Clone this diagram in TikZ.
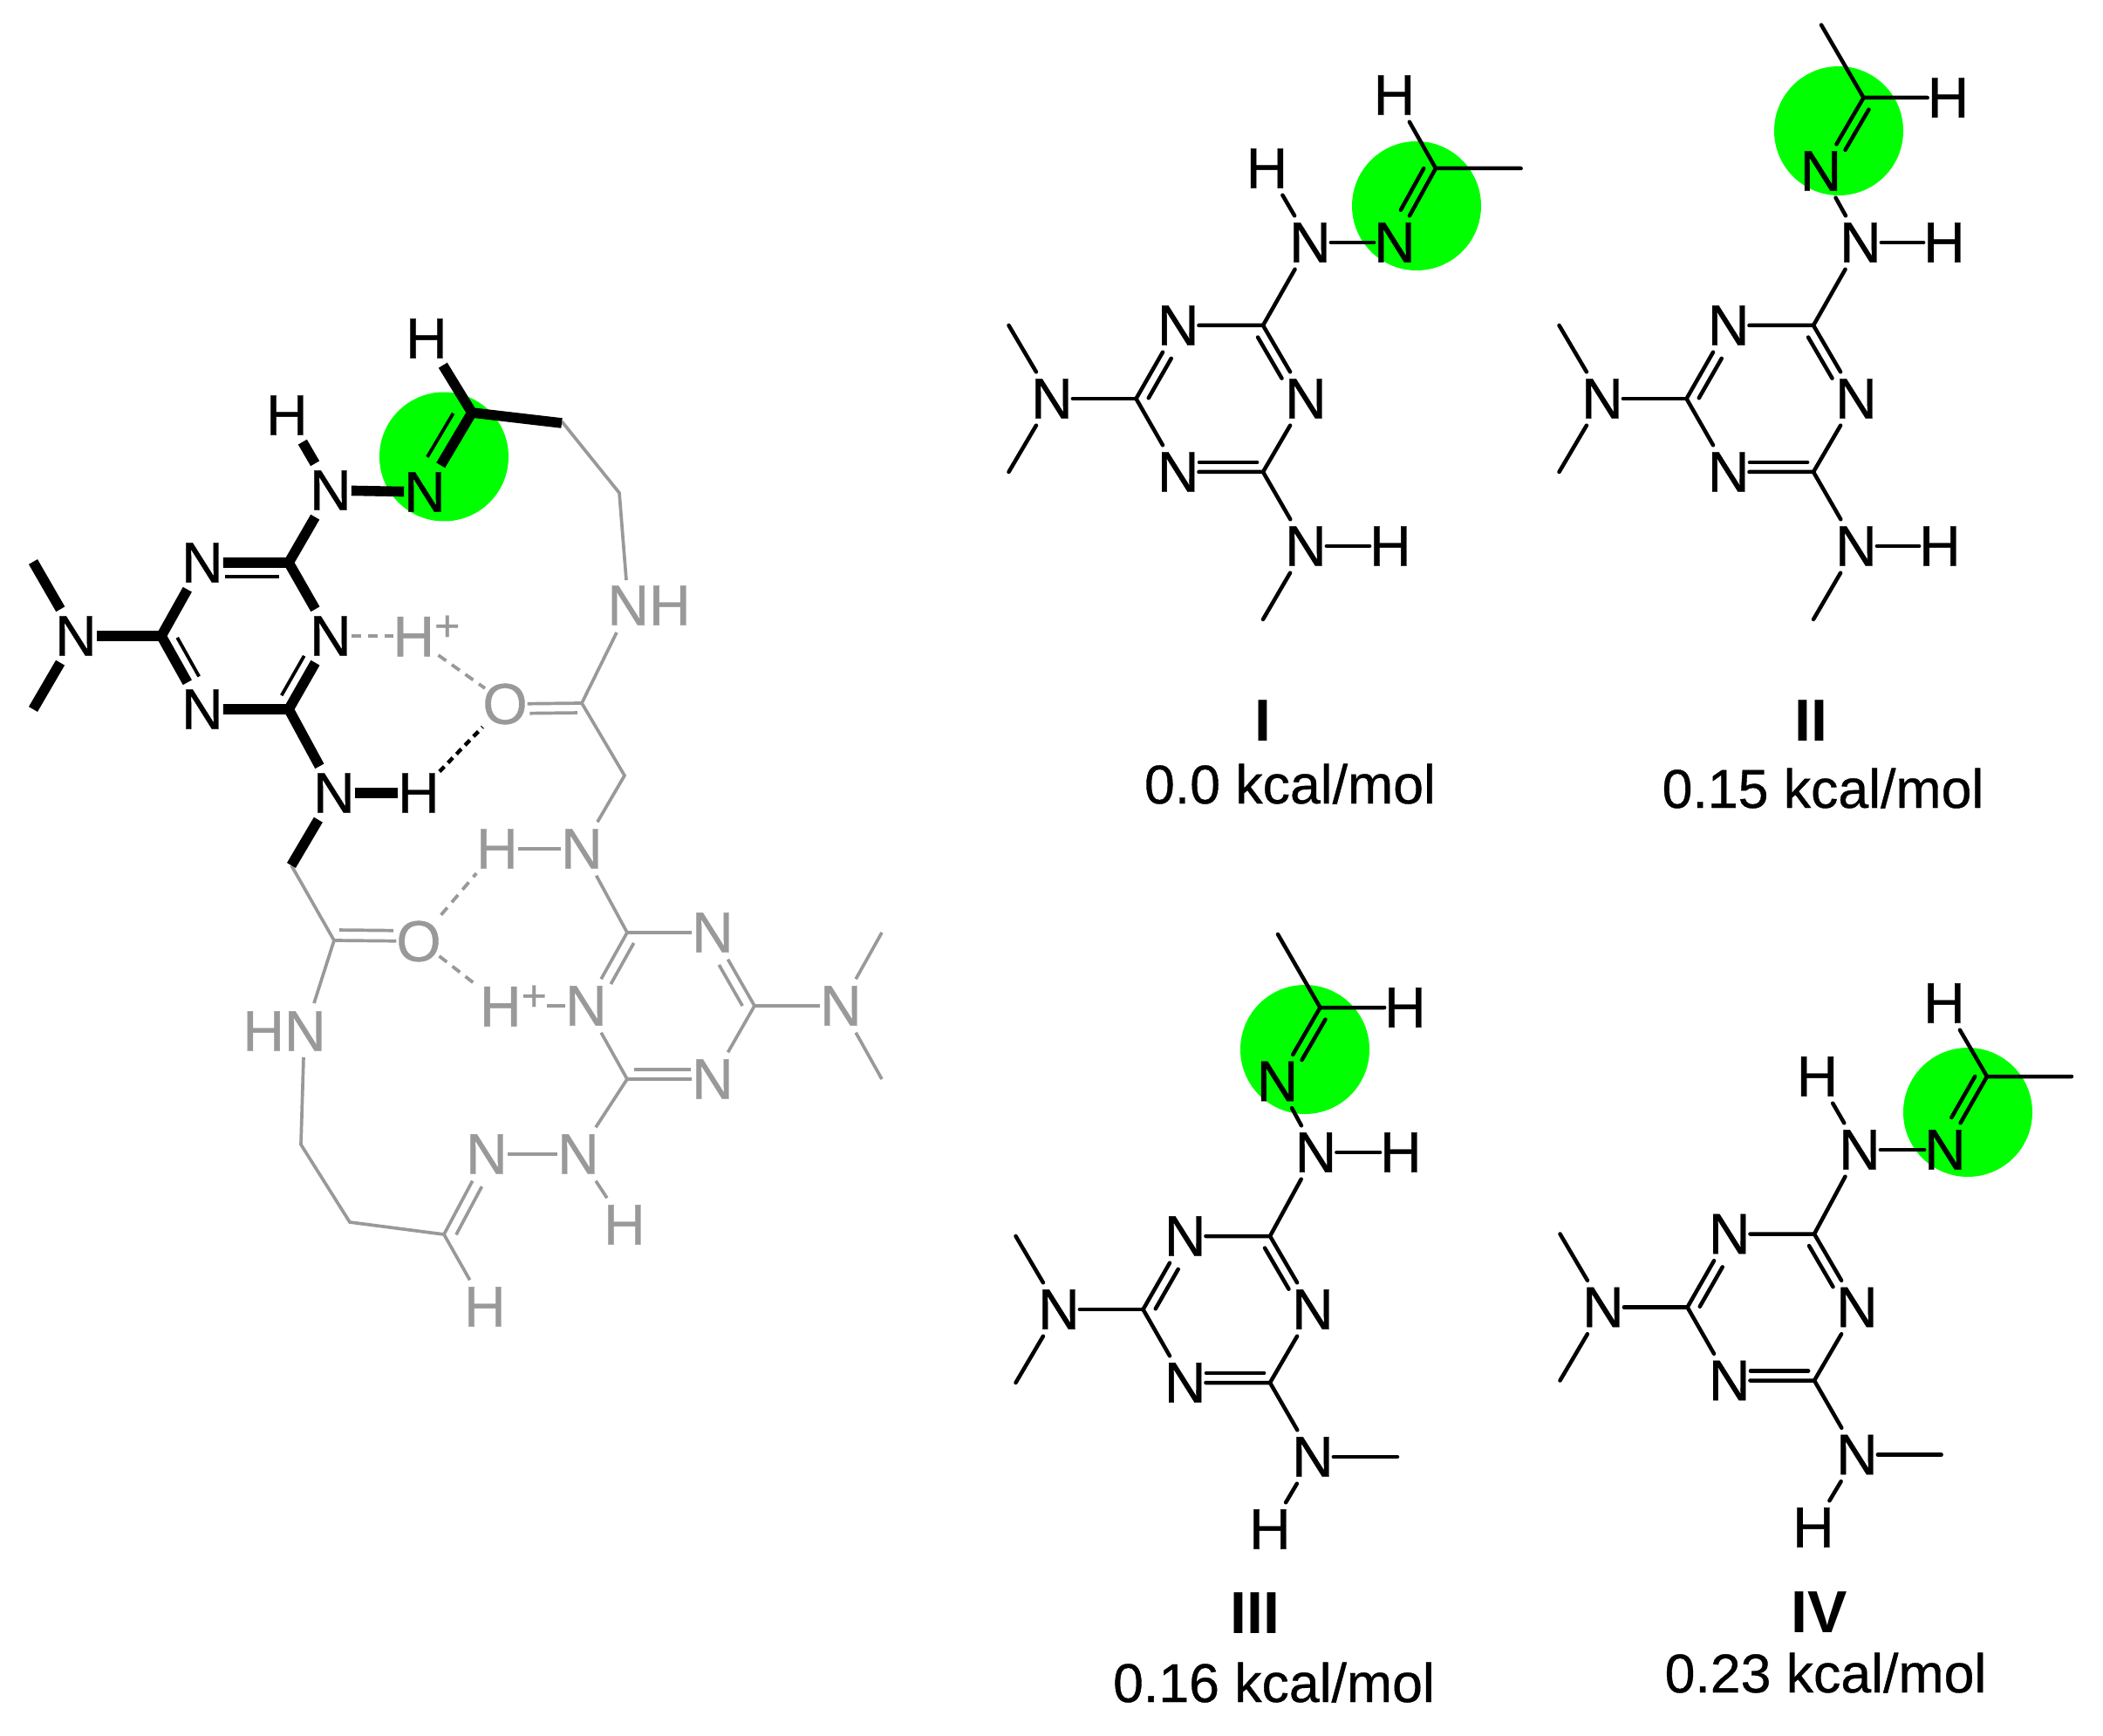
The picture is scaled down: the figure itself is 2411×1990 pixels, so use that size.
\documentclass[tikz,border=0pt]{standalone}
\usepackage{fontspec}
\setmainfont[UprightFeatures={FakeBold=0.6}]{Liberation Sans}
\usetikzlibrary{calc}
\definecolor{gryc}{HTML}{999999}
\definecolor{hilite}{HTML}{00FF00}
\newcommand{\dblbond}[7][]{%
  \draw[#1] ($(#2.center)!#4!(#3.center)!#7!#6:(#3.center)$) -- ($(#2.center)!#5!(#3.center)!#7!#6:(#3.center)$);}
\newcommand{\plusup}{\raisebox{9pt}{\fontsize{25pt}{25pt}\selectfont +}}
\tikzset{
  atom/.style={inner xsep=0pt,inner ysep=4pt,outer sep=0pt,font=\fontsize{33pt}{33pt}\selectfont},
  gatom/.style={atom,text=gryc},
  thinbond/.style={line width=2.25pt,line cap=round,line join=miter},
  boldbond/.style={line width=5.8pt,line cap=butt,line join=miter},
  boldinner/.style={line width=1.9pt},
  gbond/.style={line width=1.85pt,draw=gryc,line cap=butt,line join=miter},
  ghb/.style={line width=1.9pt,draw=gryc,dash pattern=on 5.5pt off 4pt},
  khb/.style={line width=2.2pt,draw=black,dash pattern=on 4pt off 3pt},
  spot/.style={fill=hilite},
  lab/.style={anchor=base,font=\fontsize{31.3pt}{31.3pt}\selectfont},
  blab/.style={anchor=base,font=\fontsize{34pt}{34pt}\selectfont\bfseries}
}
\newcommand{\triazine}{%
  \coordinate (ct) at (1448,373);
  \coordinate (cb) at (1448,541);
  \coordinate (cl) at (1302.5,457);
  \coordinate (m1) at (1156.5,373);
  \coordinate (m2) at (1156.5,541);
  \node[atom] (nr) at (1497,457) {N};
  \node[atom] (nb) at (1350.6,541) {N};
  \node[atom] (nt) at (1350.6,373) {N};
  \node[atom] (nm) at (1206,457) {N};
  \node[atom] (nl) at (1497,626) {N};
  \draw[thinbond] (nt) -- (ct) -- (nr);
  \draw[thinbond] (nr) -- (cb) -- (nb);
  \draw[thinbond] (nb) -- (cl) -- (nt);
  \draw[thinbond] (cl) -- (nm);
  \draw[thinbond] (m1) -- (nm);
  \draw[thinbond] (m2) -- (nm);
  \draw[thinbond] (cb) -- (nl);
  \dblbond[thinbond]{ct}{nr}{0.09}{0.65}{-90}{6pt}
  \dblbond[thinbond]{cl}{nt}{0.08}{0.62}{-90}{6pt}
  \dblbond[thinbond]{cb}{nb}{0.07}{0.75}{-90}{5.5pt}
}
\begin{document}
\begin{tikzpicture}[x=0.5pt,y=-0.5pt]
\path[use as bounding box,fill=white] (0,0) rectangle (2411,1990);

% ---------- left dimer ----------
\begin{scope}[name prefix=L-]
\fill[spot] (509,523.5) circle (37pt);
% gray part
\coordinate (g0) at (644,483);
\coordinate (g1) at (710,565);
\coordinate (nhtop) at (718,665);
\coordinate (nhbot) at (707,725);
\coordinate (gc) at (667,806);
\coordinate (gd) at (716,889);
\node[gatom] (nh) at (744,694) {NH};
\node[gatom] (o1) at (579,807) {O};
\node[gatom] (hn2) at (570,973) {H};
\node[gatom] (n2) at (667,973) {N};
\coordinate (rct) at (719,1069);
\coordinate (rcr) at (865,1153);
\coordinate (rcb) at (719,1237);
\node[gatom] (rtr) at (817,1069) {N};
\node[gatom] (rbr) at (817,1237) {N};
\node[gatom] (rl) at (672,1153) {N};
\node[gatom] (rm) at (964,1153) {N};
\coordinate (rm1) at (1011,1069);
\coordinate (rm2) at (1011,1237);
\node[gatom,anchor=west] (hp2) at (550,1153) {H\plusup};
\node[gatom] (o2) at (480,1079) {O};
\coordinate (cc) at (334,992);
\coordinate (c2) at (383,1078);
\node[gatom] (hn) at (326,1182) {HN};
\coordinate (hntop) at (360,1150);
\coordinate (hnbot) at (348,1212);
\coordinate (e1) at (345,1312);
\coordinate (e2) at (401,1401);
\coordinate (e3) at (509,1415);
\node[gatom] (hb) at (556,1498) {H};
\node[gatom] (nd) at (558,1323) {N};
\node[gatom] (ne) at (663,1323) {N};
\node[gatom] (he) at (716,1404) {H};
\node[gatom,anchor=west] (hp1) at (450.5,729) {H\plusup};
\draw[gbond] (g0) -- (g1) -- (nhtop);
\draw[gbond] (nhbot) -- (gc) -- (gd) -- (n2);
\draw[gbond] (gc) -- (o1);
\dblbond[gbond]{gc}{o1}{0.06}{0.68}{90}{5.5pt}
\draw[gbond] (hn2) -- (n2);
\draw[gbond] (n2) -- (rct) -- (rtr);
\draw[gbond] (rct) -- (rl);
\dblbond[gbond]{rct}{rl}{0.07}{0.63}{90}{6.25pt}
\draw[gbond] (rtr) -- (rcr) -- (rbr);
\dblbond[gbond]{rcr}{rtr}{0.07}{0.63}{90}{6pt}
\draw[gbond] (rcr) -- (rm);
\draw[gbond] (rm1) -- (rm);
\draw[gbond] (rm2) -- (rm);
\draw[gbond] (rl) -- (rcb) -- (rbr);
\dblbond[gbond]{rcb}{rbr}{0.08}{0.74}{90}{5.5pt}
\draw[gbond] (rcb) -- (ne);
\draw[gbond] (ne) -- (nd);
\draw[gbond] (ne) -- (he);
\draw[gbond] (hp2) -- (rl);
\draw[gbond] (cc) -- (c2) -- (hntop);
\draw[gbond] (c2) -- (o2);
\dblbond[gbond]{c2}{o2}{0.06}{0.70}{90}{6pt}
\draw[gbond] (hnbot) -- (e1) -- (e2) -- (e3) -- (hb);
\draw[gbond] (e3) -- (nd);
\dblbond[gbond]{e3}{nd}{0.06}{0.66}{-90}{6.25pt}
% hydrogen bonds
\coordinate (hba) at (502.5,751);
\coordinate (hbb) at (556,789);
\coordinate (hbc) at (503.6,1096);
\coordinate (hbd) at (548.5,1131);
\draw[ghb] (hba) -- (hbb);
\draw[ghb] (hbc) -- (hbd);
\draw[ghb] (o2) -- (hn2);
% black part
\coordinate (ch) at (541,473);
\coordinate (ch2) at (644,485);
\coordinate (kct) at (331,645);
\coordinate (kcl) at (185,729);
\coordinate (kcb) at (331,813);
\coordinate (km1) at (38,644);
\coordinate (km2) at (38,813);
\node[atom] (kh1) at (489,388) {H};
\node[atom] (knd) at (487,564) {N};
\node[atom] (kna) at (379,562) {N};
\node[atom] (kh2) at (329,476) {H};
\node[atom] (knt) at (232,645) {N};
\node[atom] (knb) at (232,813) {N};
\node[atom] (knr) at (379,729) {N};
\node[atom] (knm) at (87,729) {N};
\node[atom] (knl) at (383,909) {N};
\node[atom] (kh3) at (480,909) {H};
\draw[ghb] (knr) -- (hp1);
\draw[khb] (kh3) -- (o1);
\draw[boldbond] (kh1) -- (ch) -- (ch2);
\draw[boldbond] (ch) -- (knd);
\dblbond[boldinner]{ch}{knd}{0.11}{0.66}{-90}{9pt}
\draw[boldbond] (kna) -- (knd);
\draw[boldbond] (kh2) -- (kna);
\draw[boldbond] (kna) -- (kct);
\draw[boldbond] (knt) -- (kct) -- (knr);
\dblbond[boldinner]{kct}{knt}{0.11}{0.74}{90}{8pt}
\draw[boldbond] (knt) -- (kcl) -- (knb);
\dblbond[boldinner]{kcl}{knb}{0.11}{0.64}{90}{7.5pt}
\draw[boldbond] (knb) -- (kcb) -- (knr);
\dblbond[boldinner]{kcb}{knr}{0.10}{0.64}{90}{7.5pt}
\draw[boldbond] (kcl) -- (knm);
\draw[boldbond] (km1) -- (knm);
\draw[boldbond] (km2) -- (knm);
\draw[boldbond] (kcb) -- (knl);
\draw[boldbond] (knl) -- (kh3);
\draw[boldbond] (knl) -- (cc);
\end{scope}

% ---------- panel I ----------
\begin{scope}[name prefix=A-]
\fill[spot] (1624,236) circle (37pt);
\triazine
\node[atom] (na) at (1502,278) {N};
\node[atom] (ha) at (1452.5,193) {H};
\node[atom] (nd) at (1599,278) {N};
\coordinate (cd) at (1646,193);
\node[atom] (hd) at (1598.5,109) {H};
\coordinate (md) at (1743.6,193);
\node[atom] (hl) at (1594,626) {H};
\coordinate (ml) at (1448,710);
\draw[thinbond] (ct) -- (na);
\draw[thinbond] (ha) -- (na);
\draw[thinbond] (na) -- (nd);
\draw[thinbond] (cd) -- (nd);
\dblbond[thinbond]{cd}{nd}{0.07}{0.63}{-90}{6pt}
\draw[thinbond] (hd) -- (cd) -- (md);
\draw[thinbond] (nl) -- (hl);
\draw[thinbond] (nl) -- (ml);
\end{scope}

% ---------- panel II ----------
\begin{scope}[shift={(631,0)},name prefix=B-]
\fill[spot] (1477,150) circle (37pt);
\triazine
\node[atom] (na) at (1502,278) {N};
\node[atom] (ha) at (1598,278) {H};
\node[atom] (nd) at (1456.5,196) {N};
\coordinate (cd) at (1505.5,112);
\node[atom] (hd) at (1602.5,112) {H};
\coordinate (md) at (1457,28.6);
\node[atom] (hl) at (1593,626) {H};
\coordinate (ml) at (1448,710);
\draw[thinbond] (ct) -- (na);
\draw[thinbond] (na) -- (ha);
\draw[thinbond] (na) -- (nd);
\draw[thinbond] (cd) -- (nd);
\dblbond[thinbond]{cd}{nd}{0.09}{0.64}{90}{6pt}
\draw[thinbond] (md) -- (cd) -- (hd);
\draw[thinbond] (nl) -- (hl);
\draw[thinbond] (nl) -- (ml);
\end{scope}

% ---------- panel III ----------
\begin{scope}[shift={(8,1044)},name prefix=C-]
\fill[spot] (1488,159) circle (37pt);
\triazine
\node[atom] (na) at (1500.5,277) {N};
\node[atom] (ha) at (1598,277) {H};
\node[atom] (nd) at (1456.5,195.5) {N};
\coordinate (cd) at (1505.5,111);
\node[atom] (hd) at (1603,111) {H};
\coordinate (md) at (1457,27);
\node[atom] (hl) at (1448,709) {H};
\coordinate (ml) at (1594,626);
\draw[thinbond] (ct) -- (na);
\draw[thinbond] (na) -- (ha);
\draw[thinbond] (na) -- (nd);
\draw[thinbond] (cd) -- (nd);
\dblbond[thinbond]{cd}{nd}{0.09}{0.64}{90}{6pt}
\draw[thinbond] (md) -- (cd) -- (hd);
\draw[thinbond] (nl) -- (hl);
\draw[thinbond] (nl) -- (ml);
\end{scope}

% ---------- panel IV ----------
\begin{scope}[shift={(632,1041.5)},name prefix=D-]
\fill[spot] (1624,233.5) circle (37pt);
\triazine
\node[atom] (na) at (1500,276.5) {N};
\node[atom] (ha) at (1451.4,192.5) {H};
\node[atom] (nd) at (1598,276.5) {N};
\coordinate (cd) at (1646,192.5);
\node[atom] (hd) at (1597,108.5) {H};
\coordinate (md) at (1743,192.5);
\node[atom] (hl) at (1447,709.5) {H};
\coordinate (ml) at (1593.6,626);
\draw[thinbond] (ct) -- (na);
\draw[thinbond] (ha) -- (na);
\draw[thinbond] (na) -- (nd);
\draw[thinbond] (cd) -- (nd);
\dblbond[thinbond]{cd}{nd}{0.07}{0.63}{-90}{6pt}
\draw[thinbond] (hd) -- (cd) -- (md);
\draw[thinbond] (nl) -- (hl);
\draw[thinbond] (nl) -- (ml);
\end{scope}

% ---------- labels ----------
\node[blab] (t1) at (1447.5,849) {I};
\node[lab] (e1) at (1479,921) {0.0 kcal/mol};
\node[blab] (t2) at (2076.5,849) {II};
\node[lab] (e2) at (2090,926) {0.15 kcal/mol};
\node[blab] (t3) at (1439,1872) {III};
\node[lab] (e3) at (1460.5,1951) {0.16 kcal/mol};
\node[blab] (t4) at (2086,1871) {IV};
\node[lab] (e4) at (2093,1940) {0.23 kcal/mol};
\end{tikzpicture}
\end{document}
